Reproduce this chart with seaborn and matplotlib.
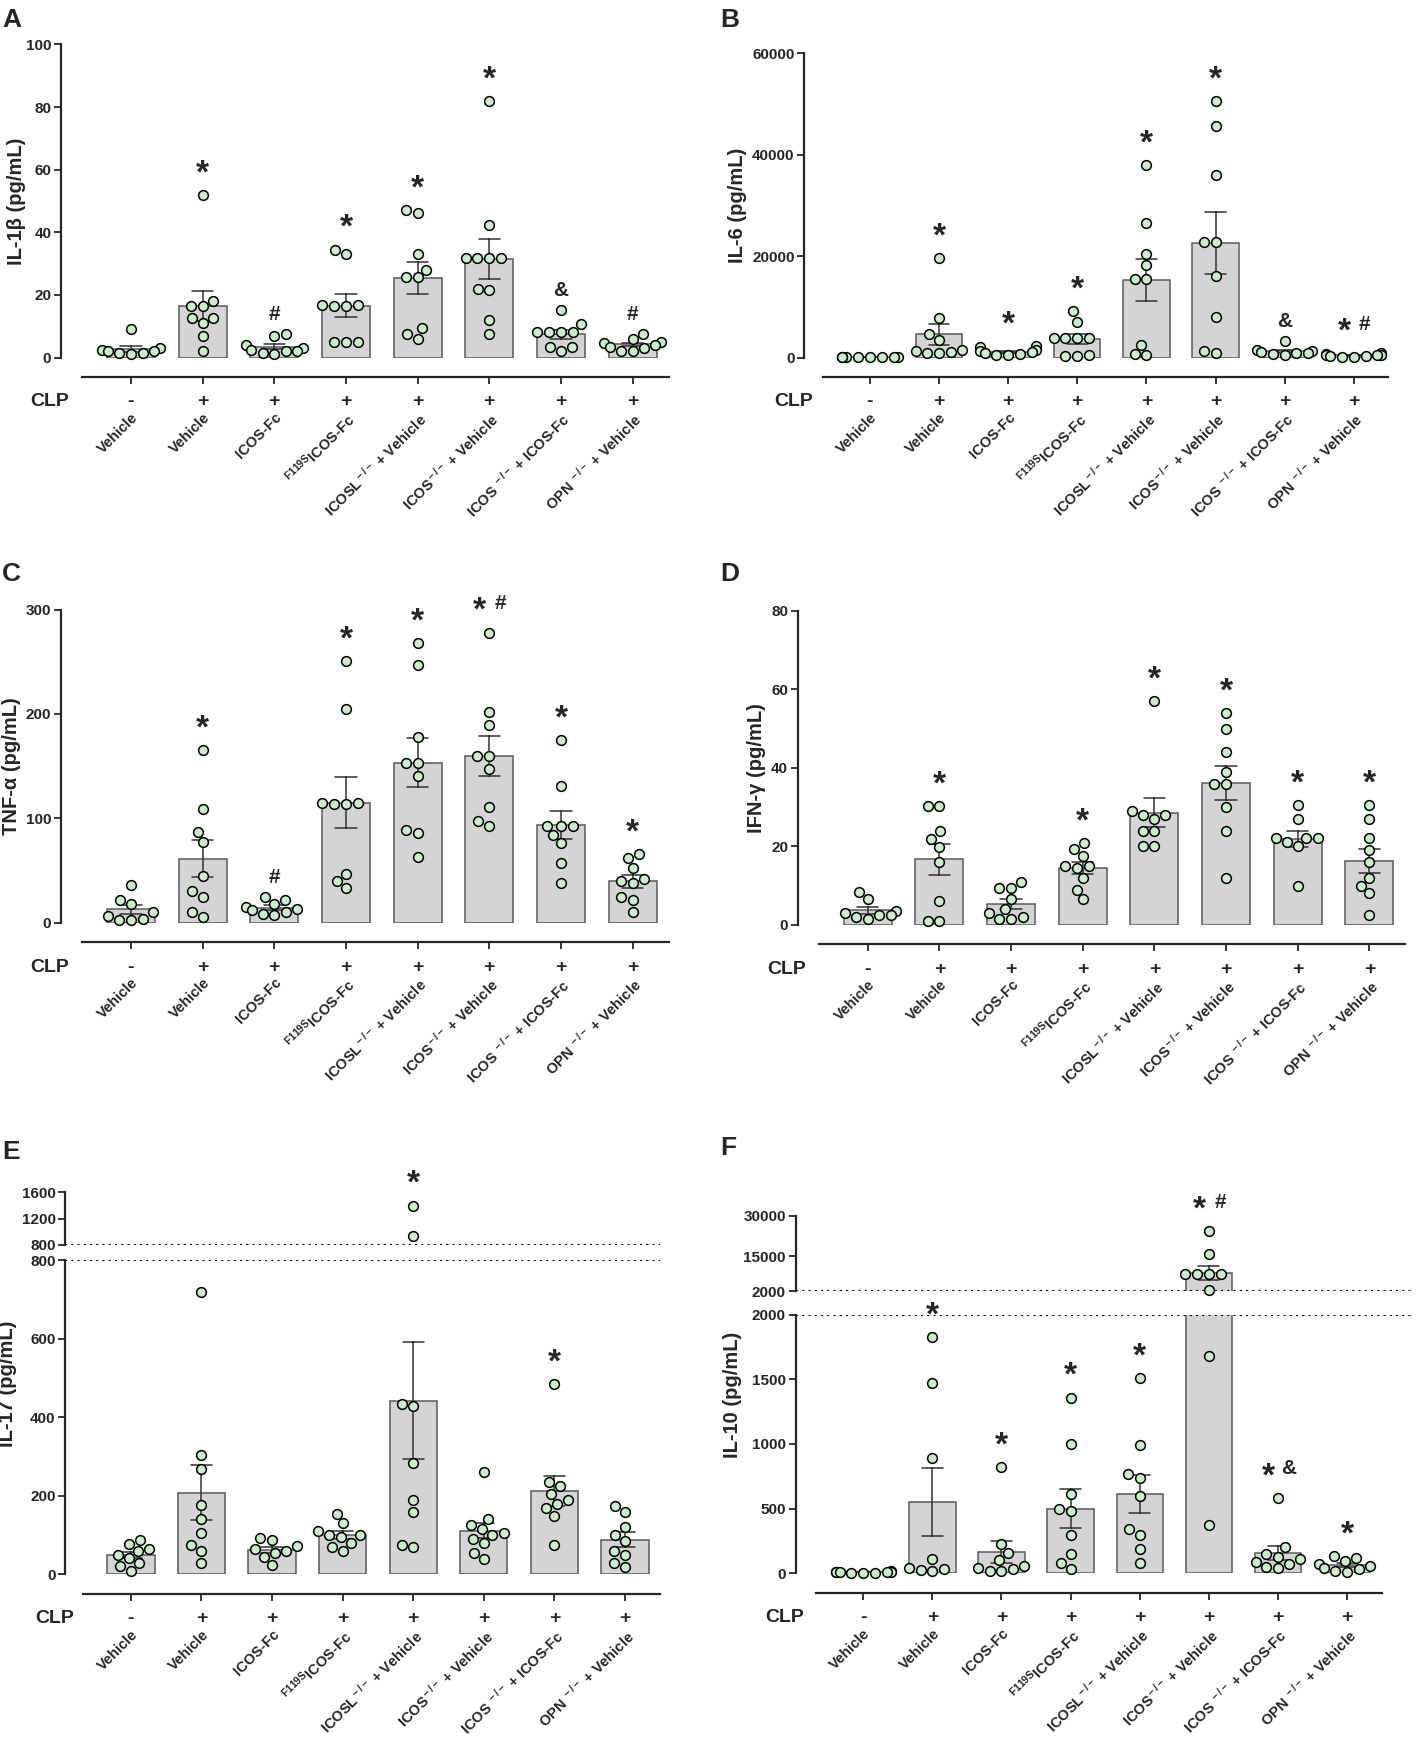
import matplotlib
matplotlib.use("Agg")
import matplotlib.pyplot as plt
import seaborn as sns
import pandas as pd

# ---- data ----
groups = ["Vehicle", "Vehicle", "ICOS-Fc", r"$^{\rm F119S}$ICOS-Fc",
          r"ICOSL$^{\rm -/-}$ + Vehicle", r"ICOS$^{\rm -/-}$ + Vehicle",
          r"ICOS $^{\rm -/-}$ + ICOS-Fc", r"OPN $^{\rm -/-}$ + Vehicle"]
clp = ["-", "+", "+", "+", "+", "+", "+", "+"]

il1b = [
    [9, 2.5, 1.5, 2, 3, 1, 1.5, 2],
    [51.8, 18.2, 16.5, 16.5, 12.5, 11, 12.5, 7, 2],
    [7.5, 7, 4, 3, 2.5, 2, 1.5, 1, 2],
    [34.5, 33.2, 16.8, 16.6, 16.8, 16.6, 5, 5, 5],
    [47, 46, 33, 28, 25.6, 25.6, 9.3, 7.5, 6],
    [81.8, 42.3, 31.8, 31.8, 31.8, 31.8, 21.5, 22, 12, 7.6],
    [15.3, 10.6, 8, 8, 8, 8, 3.5, 3.5, 2],
    [7.5, 6, 5, 4.5, 4, 3.5, 3, 2, 2],
]
il1b_marks = ["", "*", "#", "*", "*", "*", "&", "#"]

il6 = [
    [60, 80, 100, 40, 90, 70, 50, 30],
    [19600, 7700, 4700, 3500, 1500, 1200, 1000, 900, 800],
    [2300, 2000, 1500, 1200, 1000, 800, 700, 500, 400],
    [9100, 7000, 3800, 3800, 3800, 3800, 500, 300, 300],
    [38000, 26600, 20500, 18200, 15400, 15400, 2500, 600, 500],
    [50500, 45700, 35900, 22700, 22700, 16100, 8000, 1200, 800],
    [3300, 1500, 1200, 1000, 900, 800, 700, 500],
    [800, 600, 500, 400, 400, 300, 300, 200, 200],
]
il6_marks = ["", "*", "*", "*", "*", "*", "&", "* #"]

tnf = [
    [36, 22, 18, 10, 6, 4, 3, 3],
    [165, 109, 87, 77, 45, 30, 25, 10, 5],
    [25, 22, 18, 15, 13, 12, 10, 8, 7],
    [251, 205, 115, 115, 114, 114, 47, 40, 33],
    [268, 247, 178, 153, 153, 141, 89, 86, 63],
    [278, 202, 189, 160, 160, 147, 111, 97, 93],
    [175, 131, 93, 93, 93, 84, 76, 57, 38],
    [66, 62, 52, 42, 40, 38, 25, 22, 10],
]
tnf_marks = ["", "*", "#", "*", "*", "* #", "*", "*"]

ifng = [
    [8.5, 6.5, 3.5, 3, 2.5, 2.5, 2, 1.5],
    [30.3, 30.3, 23.8, 21.9, 19.8, 16, 6, 1, 1],
    [11, 9.5, 9.5, 6.5, 4, 3, 2, 1.5, 1.5],
    [20.8, 19.3, 17.5, 15, 15, 14.5, 12, 9, 6.5],
    [57, 29, 28, 28, 27, 24, 24, 20, 20],
    [54, 50, 44, 39, 36, 36, 30, 24, 12],
    [30.5, 27, 22, 22, 22, 21, 20, 10],
    [30.5, 27, 22, 19, 16, 12, 10, 8, 2.5],
]
ifng_marks = ["", "*", "", "*", "*", "*", "*", "*"]

il17 = [
    [88, 78, 65, 60, 50, 42, 30, 22, 10],
    [718, 303, 268, 178, 140, 105, 75, 60, 30],
    [92, 88, 72, 65, 60, 55, 45, 25],
    [155, 130, 110, 100, 100, 95, 80, 70, 60],
    [1400, 930, 435, 430, 285, 190, 160, 75, 70],
    [262, 140, 125, 115, 105, 100, 90, 80, 55, 40],
    [484, 235, 225, 205, 190, 180, 170, 150, 75],
    [175, 158, 122, 100, 85, 60, 50, 30, 20],
]
il17_marks = ["", "", "", "", "*", "", "*", ""]

il10 = [
    [15, 12, 10, 10, 8, 8, 6, 5, 4],
    [1826, 1474, 893, 110, 40, 30, 25, 20],
    [824, 230, 160, 100, 60, 45, 30, 20, 15],
    [1359, 1000, 610, 500, 480, 300, 150, 80, 30],
    [1510, 995, 765, 740, 600, 340, 300, 190, 80],
    [24280, 15740, 8560, 8560, 8560, 8560, 2370, 1680, 370],
    [584, 200, 150, 130, 110, 90, 70, 50, 40],
    [135, 120, 95, 70, 55, 40, 30, 20, 10],
]
il10_marks = ["", "*", "*", "*", "*", "* #", "* &", "*"]

# ---- style ----
sns.set_theme(style="ticks")
plt.rcParams["font.family"] = ["Liberation Sans", "DejaVu Sans"]
plt.rcParams["font.weight"] = "bold"
plt.rcParams["mathtext.fontset"] = "custom"
plt.rcParams["mathtext.rm"] = "Liberation Sans"
plt.rcParams["mathtext.it"] = "Liberation Sans:italic"
plt.rcParams["mathtext.bf"] = "Liberation Sans:bold"

BAR = "#d4d4d4"
EDGE = "#5a5a5a"
DOT = "#c6f0c6"

W, H = 1278.0, 1568.0  # layout measured in these units


def fx(x):
    return x / W


def fy(y):
    return 1 - y / H


fig = plt.figure(figsize=(14.18, 17.41), dpi=100)


def make_df(vals):
    rows = [(g, v) for g, vs in enumerate(vals) for v in vs]
    return pd.DataFrame(rows, columns=["g", "value"])


def add_ax(lay, y_top, y_bot):
    right = lay["x0"] + lay["xr"] * lay["step"]
    ax = fig.add_axes([fx(lay["spine"]), fy(y_bot),
                       (right - lay["spine"]) / W, (y_bot - y_top) / H])
    return ax


def draw(ax, lay, df, lo, hi, ylim, yticks, show_x):
    sub = df[(df.value >= lo) & (df.value <= hi)]
    sns.barplot(data=df, x="g", y="value", order=range(8), errorbar="se",
                capsize=0.3, width=0.67, color=BAR, saturation=1,
                edgecolor=EDGE, linewidth=1.1,
                err_kws={"color": "#333333", "linewidth": 1.1}, ax=ax)
    sns.swarmplot(data=sub, x="g", y="value", order=range(8), color=DOT,
                  edgecolor="black", linewidth=1.1, size=7, ax=ax,
                  clip_on=False, zorder=5)
    ax.set_xlabel("")
    ax.set_ylabel("")
    ax.set_xlim(-(lay["x0"] - lay["spine"]) / lay["step"], lay["xr"])
    ax.set_ylim(*ylim)
    ax.set_yticks(yticks)
    ax.set_yticklabels([str(t) for t in yticks], fontsize=11, fontweight="bold")
    ax.tick_params(axis="y", length=5, width=1.3, pad=2)
    for s in ["top", "right"]:
        ax.spines[s].set_visible(False)
    ax.spines["left"].set_linewidth(1.6)
    ax.spines["left"].set_bounds(*ylim)
    if show_x:
        ax.spines["bottom"].set_position(("outward", 14))
        ax.spines["bottom"].set_bounds(-0.68, 7.5)
        ax.spines["bottom"].set_linewidth(1.6)
        ax.set_xticks(range(8))
        ax.set_xticklabels(groups, rotation=45, ha="right",
                           rotation_mode="anchor", fontsize=10.5, fontweight="bold")
        ax.tick_params(axis="x", length=5, width=1.3, pad=19)
        for i, s in enumerate(clp):
            ax.annotate(s, xy=(i, 0), xycoords=("data", "axes fraction"),
                        xytext=(0, -32), textcoords="offset points",
                        ha="center", va="center", fontsize=14, fontweight="bold")
        ax.annotate("CLP", xy=(0, 0), xycoords="axes fraction",
                    xytext=(-8, -32), textcoords="offset points",
                    ha="center", va="center", fontsize=14, fontweight="bold")
    else:
        ax.spines["bottom"].set_visible(False)
        ax.tick_params(axis="x", bottom=False, labelbottom=False)
    ax.patch.set_alpha(0)


def put_marks(ax, vals, marks, lo, hi):
    for i, m in enumerate(marks):
        if not m:
            continue
        top = max(vals[i])
        if top < lo or top > hi:
            continue
        parts = m.split()
        dxs = [0] if len(parts) == 1 else [-7, 8]
        for p, dx in zip(parts, dxs):
            if p == "*":
                ax.annotate("*", xy=(i, top), xytext=(dx, 9), textcoords="offset points",
                            ha="center", va="baseline", fontsize=24, fontweight="bold",
                            annotation_clip=False)
            else:
                dy = 10 if len(parts) == 1 else 17
                ax.annotate(p, xy=(i, top), xytext=(dx, dy), textcoords="offset points",
                            ha="center", va="baseline", fontsize=15, fontweight="bold",
                            annotation_clip=False)


simple = [
    ("A", il1b, il1b_marks, "IL-1β (pg/mL)", (0, 100), [0, 20, 40, 60, 80, 100],
     dict(spine=55, x0=118, step=64.6, xr=7.5, top=40, bot=322, ylab_x=15, letter=(2, 7))),
    ("B", il6, il6_marks, "IL-6 (pg/mL)", (0, 60000), [0, 20000, 40000, 60000],
     dict(spine=725, x0=784, step=62.3, xr=7.5, top=48, bot=322, ylab_x=665, letter=(649, 7))),
    ("C", tnf, tnf_marks, "TNF-α (pg/mL)", (0, 300), [0, 100, 200, 300],
     dict(spine=55, x0=118, step=64.6, xr=7.5, top=549, bot=831, ylab_x=10, letter=(2, 506))),
    ("D", ifng, ifng_marks, "IFN-γ (pg/mL)", (0, 80), [0, 20, 40, 60, 80],
     dict(spine=719, x0=782, step=64.6, xr=7.5, top=550, bot=833, ylab_x=682, letter=(649, 506))),
]

for key, vals, marks, ylab, ylim, yticks, lay in simple:
    df = make_df(vals)
    ax = add_ax(lay, lay["top"], lay["bot"])
    draw(ax, lay, df, -1e9, 1e9, ylim, yticks, True)
    put_marks(ax, vals, marks, -1e9, 1e9)
    fig.text(fx(lay["ylab_x"]), fy((lay["top"] + lay["bot"]) / 2), ylab, rotation=90,
             ha="center", va="center", fontsize=14.5, fontweight="bold")
    fig.text(fx(lay["letter"][0]), fy(lay["letter"][1]), key, ha="left", va="top",
             fontsize=19, fontweight="bold")

broken = [
    ("E", il17, il17_marks, "IL-17 (pg/mL)", (800, 1600), [800, 1200, 1600],
     (0, 800), [0, 200, 400, 600, 800],
     dict(spine=59, x0=118, step=63.6, xr=7.5, top=1074, mid1=1121, mid2=1135, bot=1418,
          ylab_x=7, letter=(2, 1027))),
    ("F", il10, il10_marks, "IL-10 (pg/mL)", (2000, 30000), [2000, 15000, 30000],
     (0, 2000), [0, 500, 1000, 1500, 2000],
     dict(spine=717, x0=778, step=62.3, xr=7.95, top=1095, mid1=1163, mid2=1184, bot=1417,
          ylab_x=660, letter=(649, 1023))),
]

for key, vals, marks, ylab, ylim_u, yt_u, ylim_l, yt_l, lay in broken:
    df = make_df(vals)
    ax_u = add_ax(lay, lay["top"], lay["mid1"])
    ax_l = add_ax(lay, lay["mid2"], lay["bot"])
    draw(ax_u, lay, df, ylim_u[0] + 1e-6, 1e9, ylim_u, yt_u, False)
    draw(ax_l, lay, df, -1e9, ylim_l[1], ylim_l, yt_l, True)
    put_marks(ax_u, vals, marks, ylim_u[0] + 1e-6, 1e9)
    put_marks(ax_l, vals, marks, -1e9, ylim_l[1])
    ax_u.axhline(ylim_u[0], color="black", ls=(0, (1, 2)), lw=1.5, zorder=1)
    ax_l.axhline(ylim_l[1], color="black", ls=(0, (1, 2)), lw=1.5, zorder=1)
    fig.text(fx(lay["ylab_x"]), fy((lay["top"] + lay["bot"]) / 2), ylab, rotation=90,
             ha="center", va="center", fontsize=14.5, fontweight="bold")
    fig.text(fx(lay["letter"][0]), fy(lay["letter"][1]), key, ha="left", va="top",
             fontsize=19, fontweight="bold")

fig.savefig("out.png", dpi=100)
